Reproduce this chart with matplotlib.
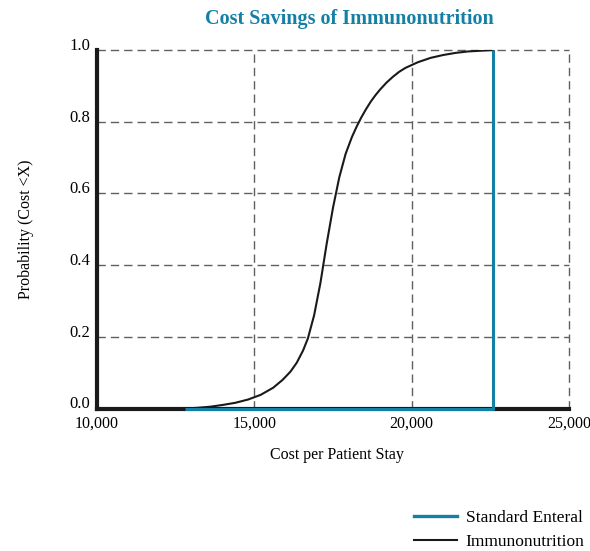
import matplotlib
matplotlib.use("Agg")
import matplotlib.pyplot as plt
from matplotlib.lines import Line2D

# Data
immuno_cost = [12800, 13200, 13600, 14000, 14400, 14800, 15200, 15600, 15900, 16150,
               16350, 16550, 16700, 16900, 17100, 17300, 17500, 17700, 17900, 18100, 18250,
               18400, 18550, 18700, 18850, 19000, 19200, 19400, 19600, 19800, 20000,
               20200, 20400, 20600, 20800, 21000, 21400, 21800, 22200, 22600]
immuno_prob = [0.0, 0.002, 0.005, 0.01, 0.016, 0.025, 0.038, 0.058, 0.08, 0.103,
               0.128, 0.162, 0.195, 0.26, 0.35, 0.46, 0.56, 0.645, 0.71, 0.757, 0.786,
               0.812, 0.835, 0.856, 0.874, 0.89, 0.909, 0.925, 0.939, 0.95, 0.958,
               0.966, 0.972, 0.978, 0.982, 0.986, 0.992, 0.996, 0.998, 1.0]
standard_cost = [12800, 22600, 22600]
standard_prob = [0.0, 0.0, 1.0]
x_ticks = [10000, 15000, 20000, 25000]
x_labels = ["10,000", "15,000", "20,000", "25,000"]
y_ticks = [0.0, 0.2, 0.4, 0.6, 0.8, 1.0]
y_labels = ["0.0", "0.2", "0.4", "0.6", "0.8", "1.0"]

BLUE = "#1580a5"
SERIF = ["Liberation Serif", "DejaVu Serif"]
plt.rcParams["font.family"] = SERIF

fig = plt.figure(figsize=(5.9, 5.51), dpi=100)
ax = fig.add_axes([97/590, 1-408.5/551, (569-97)/590, (408.5-50)/551])
ax.set_xlim(10000, 25000)
ax.set_ylim(0, 1.0)

ax.plot(standard_cost, standard_prob, color=BLUE, lw=2.2, zorder=4, clip_on=False,
        solid_capstyle="butt")
ax.plot(immuno_cost, immuno_prob, color="#1a1a1a", lw=1.5, zorder=3,
        solid_joinstyle="round")

ax.set_xticks(x_ticks)
ax.set_xticklabels(x_labels, fontsize=11.5)
ax.set_yticks(y_ticks)
ax.set_yticklabels(y_labels, fontsize=12)
for lab in ax.get_yticklabels():
    lab.set_va("baseline")
ax.tick_params(axis="y", length=0, pad=5)
ax.tick_params(axis="x", length=0, pad=5)

ax.grid(True, color="#606060", lw=1.0, linestyle=(0, (6, 3.6)))
ax.set_axisbelow(True)
for gl in ax.get_xgridlines() + ax.get_ygridlines():
    gl.set_clip_on(False)
for s in ["top", "right"]:
    ax.spines[s].set_visible(False)
for s in ["left", "bottom"]:
    ax.spines[s].set_linewidth(3)
    ax.spines[s].set_color("#1a1a1a")
    ax.spines[s].set_zorder(2.5)

fig.text(349/590, 1-19/551, "Cost Savings of Immunonutrition", ha="center", va="center",
         fontsize=14.5, fontweight="bold", color=BLUE)
fig.text(337/590, 1-455/551, "Cost per Patient Stay", ha="center", va="center", fontsize=11.5)
fig.text(26/590, 1-229/551, "Probability (Cost <X)", ha="center", va="center",
         rotation=90, fontsize=11.5)

handles = [Line2D([], [], color=BLUE, lw=2.4), Line2D([], [], color="#1a1a1a", lw=1.5)]
fig.legend(handles, ["Standard Enteral", "Immunonutrition"], loc="lower left",
           bbox_to_anchor=(398/590, -0.027), frameon=False, fontsize=12.5, handlelength=2.5,
           handletextpad=0.5, labelspacing=0.45)

fig.savefig("out.png", dpi=100)
